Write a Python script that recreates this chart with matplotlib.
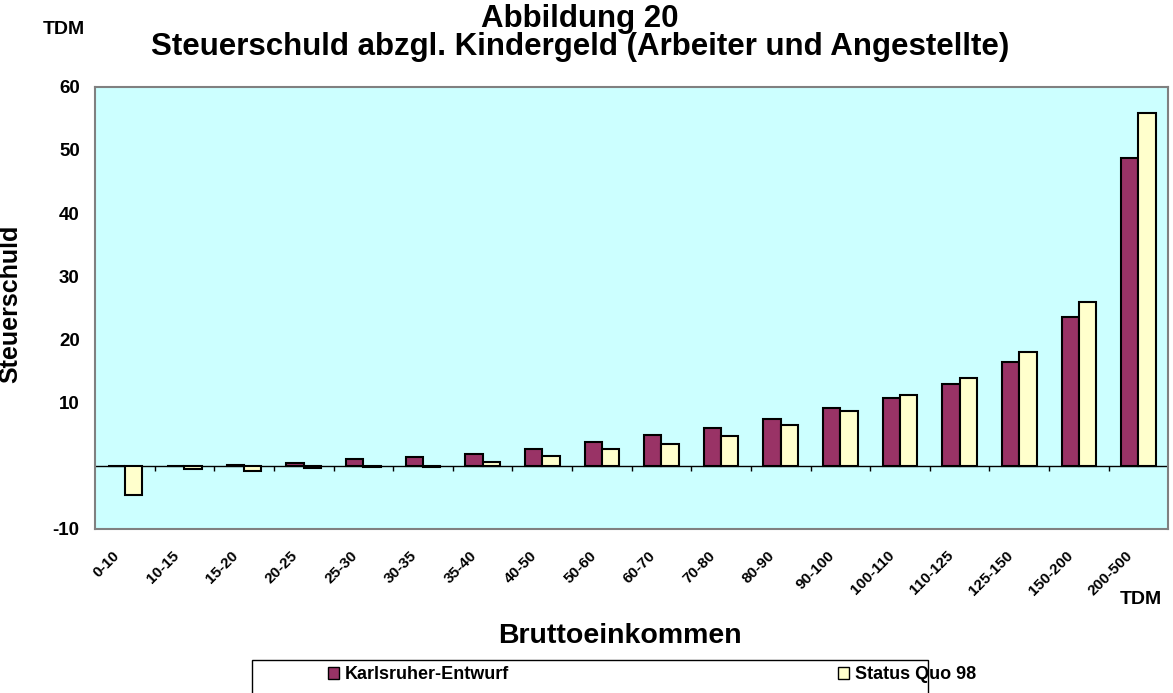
import numpy as np
import matplotlib.pyplot as plt
from matplotlib.patches import Patch, Rectangle
from matplotlib.transforms import ScaledTranslation

plt.rcParams['font.family'] = ['Liberation Sans', 'DejaVu Sans']
plt.rcParams['font.weight'] = 'bold'
plt.rcParams['axes.unicode_minus'] = False

categories = ['0-10', '10-15', '15-20', '20-25', '25-30', '30-35', '35-40', '40-50',
              '50-60', '60-70', '70-80', '80-90', '90-100', '100-110', '110-125',
              '125-150', '150-200', '200-500']
karlsruhe = [0.0, 0.0, 0.1, 0.5, 1.1, 1.4, 1.9, 2.6, 3.7, 4.8, 6.0, 7.4, 9.1,
             10.8, 13.0, 16.4, 23.6, 48.8]
status_quo = [-4.6, -0.5, -0.9, -0.4, -0.2, -0.2, 0.6, 1.6, 2.7, 3.5, 4.7, 6.5, 8.7,
              11.2, 13.9, 18.0, 25.9, 55.8]

col_k = '#993366'
col_s = '#FFFFCC'

fig = plt.figure(figsize=(11.73, 6.93), dpi=100)
ax = fig.add_axes([0.081, 0.2367, 0.915, 0.638])
ax.set_facecolor('#CCFFFF')

x = np.arange(len(categories))
w = 0.29
ax.bar(x - w / 2, karlsruhe, w, color=col_k, edgecolor='black', linewidth=1.5, zorder=3)
ax.bar(x + w / 2, status_quo, w, color=col_s, edgecolor='black', linewidth=1.5, zorder=3)

# Nulllinie mit Teilstrichen zwischen den Klassen
ax.axhline(0, color='black', linewidth=1, zorder=2)
ax.vlines(np.arange(1, len(categories)) - 0.5, -0.9, 0, color='black', linewidth=1, zorder=2)

ax.set_xlim(-0.5, len(categories) - 0.5)
ax.set_ylim(-10, 60)
ax.set_yticks([-10, 10, 20, 30, 40, 50, 60])
ax.tick_params(axis='y', length=0, labelsize=13.5, pad=11)
ax.set_xticks(x)
ax.set_xticklabels(categories, rotation=45, ha='right', rotation_mode='anchor',
                   fontsize=11)
ax.tick_params(axis='x', length=0, pad=14)
shift = ScaledTranslation(-13 / 100, 0, fig.dpi_scale_trans)
for lbl in ax.get_xticklabels():
    lbl.set_transform(lbl.get_transform() + shift)
for s in ax.spines.values():
    s.set_color('#808080')
    s.set_linewidth(1.5)

ax.set_ylabel('Steuerschuld', fontsize=18, fontweight='bold')
ax.yaxis.set_label_coords(-0.068, 0.51)

fig.text(0.4945, 0.9726, 'Abbildung 20', ha='center', va='center', fontsize=22.5,
         fontweight='bold')
fig.text(0.4945, 0.932, 'Steuerschuld abzgl. Kindergeld (Arbeiter und Angestellte)',
         ha='center', va='center', fontsize=22.5, fontweight='bold')
fig.text(0.0546, 0.957, 'TDM', ha='center', va='center', fontsize=14, fontweight='bold')
fig.text(0.9727, 0.135, 'TDM', ha='center', va='center', fontsize=14, fontweight='bold')
fig.text(0.5285, 0.082, 'Bruttoeinkommen', ha='center', va='center', fontsize=20.5,
         fontweight='bold')

handles = [Patch(facecolor=col_k, edgecolor='black', label='Karlsruher-Entwurf'),
           Patch(facecolor=col_s, edgecolor='black', label='Status Quo 98')]
fig.legend(handles=handles, loc='center left', bbox_to_anchor=(0.2796, 0.026),
           bbox_transform=fig.transFigure, ncol=2, frameon=False, fontsize=13,
           handlelength=0.6, handleheight=0.6, handletextpad=0.35,
           columnspacing=18.2, borderpad=0, borderaxespad=0)
fig.patches.append(Rectangle((252 / 1173, -0.02), 676 / 1173, 0.02 + 33 / 693,
                             transform=fig.transFigure, fill=False,
                             edgecolor='black', linewidth=1))

fig.savefig('out.png', dpi=100)
